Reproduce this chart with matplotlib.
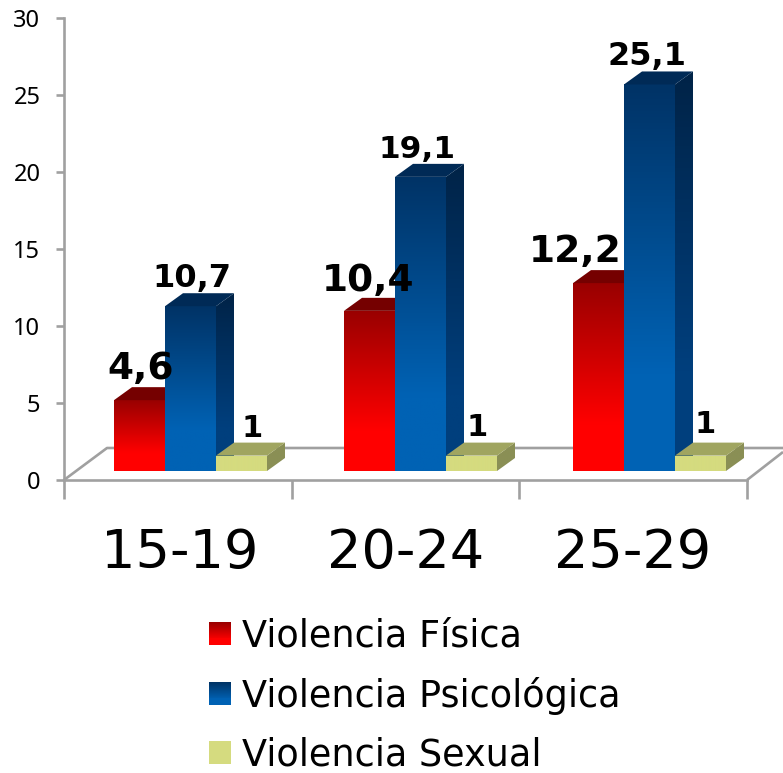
import numpy as np
import matplotlib
matplotlib.use('Agg')
import matplotlib.pyplot as plt
from matplotlib.colors import LinearSegmentedColormap
from matplotlib.legend_handler import HandlerBase
from matplotlib.patches import Patch, Polygon, Rectangle

groups = ['15-19', '20-24', '25-29']
series = ['Violencia Física', 'Violencia Psicológica', 'Violencia Sexual']
fisica = [4.6, 10.4, 12.2]
psicologica = [10.7, 19.1, 25.1]
sexual = [1, 1, 1]
yticks = [0, 5, 10, 15, 20, 25, 30]

# top colour, bottom colour
front_cols = [('#990000', '#ff0000'), ('#003366', '#0062b4'), ('#d5db7f', '#d5db7f')]
side_cols = [('#6e0000', '#a80000'), ('#002347', '#003f7d'), ('#8a8f55', '#8a8f55')]
top_cols = ['#750000', '#002a56', '#a0a560']

W, H = 783, 773
PX = 3 / 683.0     # x data units per pixel
PY = 30 / 462.0    # y data units per pixel
GREY = '#a0a0a0'

fig = plt.figure(figsize=(W / 100, H / 100), dpi=100)
ax = fig.add_axes([64 / W, 1 - 480 / H, 683 / W, 462 / H])


def grad(top, bottom):
    # colour is reached before the bottom of the face
    return LinearSegmentedColormap.from_list('g', [(0, top), (0.75, bottom), (1, bottom)])


def gradient_face(verts, top, bottom, z):
    xs = [v[0] for v in verts]
    ys = [v[1] for v in verts]
    img = np.linspace(0, 1, 128).reshape(-1, 1)
    im = ax.imshow(img, cmap=grad(top, bottom), aspect='auto', origin='upper', zorder=z,
                   extent=[min(xs), max(xs), min(ys), max(ys)], clip_on=True)
    poly = Polygon(verts, closed=True, transform=ax.transData)
    im.set_clip_path(poly)


# floor
line_kw = dict(color=GREY, lw=1.9, clip_on=False, zorder=1, solid_capstyle='butt')
ax.plot([0, 43 * PX, 719 * PX + 0.0], [0, 32 * PY, 32 * PY], **line_kw)
ax.plot([3, 3 + 36 * PX], [0, 28 * PY], **line_kw)

base = 9 * PY
dx, dy = 18 * PX, 13 * PY
bar_w = 51 * PX
starts = [50 * PX, 280 * PX, 509 * PX]

z = 2
for g, x0 in enumerate(starts):
    for s, vals in enumerate([fisica, psicologica, sexual]):
        x = x0 + s * bar_w
        y1 = base + vals[g] * 15.4 * PY - 0.0
        # side, front, top
        gradient_face([(x + bar_w, base), (x + bar_w + dx, base + dy), (x + bar_w + dx, y1 + dy), (x + bar_w, y1)],
                      side_cols[s][0], side_cols[s][1], z)
        gradient_face([(x, base), (x + bar_w, base), (x + bar_w, y1), (x, y1)],
                      front_cols[s][0], front_cols[s][1], z + 0.1)
        ax.add_patch(Polygon([(x, y1), (x + bar_w, y1), (x + bar_w + dx, y1 + dy), (x + dx, y1 + dy)],
                             closed=True, fc=top_cols[s], ec='none', zorder=z + 0.2))
        z += 1

ax.set_xlim(0, 3)
ax.set_ylim(0, 30)

for name in ['top', 'right']:
    ax.spines[name].set_visible(False)
for name in ['left', 'bottom']:
    ax.spines[name].set_color(GREY)
    ax.spines[name].set_linewidth(1.9)

ax.set_yticks(yticks)
ax.set_yticklabels([str(t) for t in yticks], fontsize=17, family='Noto Sans', color='black')
ax.tick_params(axis='y', length=6, width=1.9, color=GREY, pad=11)
ax.set_xticks([0, 1, 2, 3])
ax.set_xticklabels([])
ax.tick_params(axis='x', which='major', length=14, width=1.9, color=GREY)
ax.set_xticks([116 * PX, 342 * PX, 569 * PX], minor=True)
ax.set_xticklabels(groups, minor=True, fontsize=39, family='DejaVu Sans')
ax.tick_params(axis='x', which='minor', length=0, pad=34)

# value labels: one offset (pixels, from bar top centre) and size per bar
labels = ['4,6', '10,4', '12,2', '10,7', '19,1', '25,1', '1', '1', '1']
label_size = [27, 27, 27, 23, 22.5, 23, 22, 22, 22]
label_off = [(1, 31), (-1, 30), (-23, 31), (1, 28), (-3, 27), (-3, 28), (11, 27), (6, 28), (5, 31)]
k = 0
for s, vals in enumerate([fisica, psicologica, sexual]):
    for g, x0 in enumerate(starts):
        x = x0 + s * bar_w + bar_w / 2
        y1 = base + vals[g] * 15.4 * PY
        ox, oy = label_off[k]
        ax.annotate(labels[k], (x, y1), xytext=(ox * 0.72, oy * 0.72), textcoords='offset points',
                    ha='center', va='center', fontsize=label_size[k], fontweight='bold',
                    color='black', zorder=100, annotation_clip=False)
        k += 1


class GradHandler(HandlerBase):
    def create_artists(self, legend, orig, xd, yd, width, height, fontsize, trans):
        top, bottom = orig.grad_cols
        cm = grad(top, bottom)
        n = 24
        return [Rectangle((-xd, -yd + height * i / n), width, height / n + 0.2, fc=cm(1 - i / (n - 1)),
                          ec='none', transform=trans) for i in range(n)]


handles = []
for s, name in enumerate(series):
    h = Patch(label=name)
    h.grad_cols = front_cols[s]
    handles.append(h)
fig.legend(handles=handles, loc='upper left', bbox_to_anchor=(194 / W, 1 - 603 / H), frameon=False,
           fontsize=26.4, handler_map={Patch: GradHandler()}, labelspacing=0.6,
           handlelength=0.6, handleheight=0.58, handletextpad=0.3, borderpad=0.4, borderaxespad=0)

fig.savefig('out.png', dpi=100)
